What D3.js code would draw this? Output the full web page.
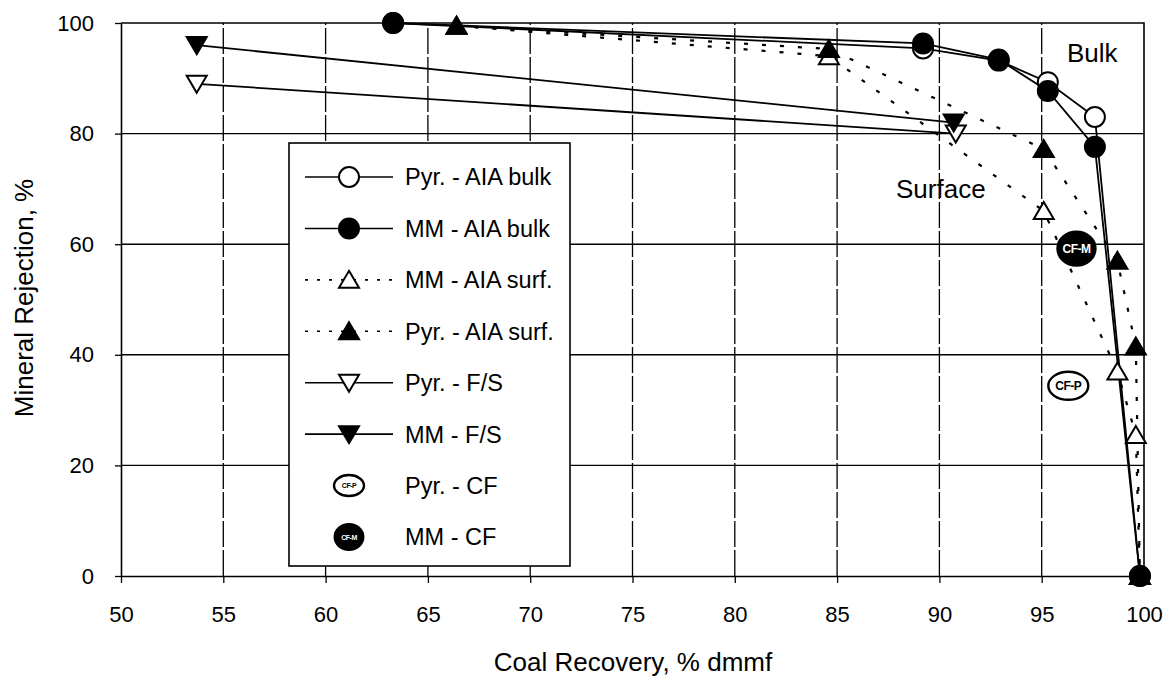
<!DOCTYPE html>
<html>
<head>
<meta charset="utf-8">
<script src="https://cdn.jsdelivr.net/npm/d3@7"></script>
<style>
  html, body { margin: 0; padding: 0; background: #fff; }
  svg { display: block; }
  text { font-family: "Liberation Sans", Arial, Helvetica, sans-serif; fill: #000; }
</style>
</head>
<body>
<svg id="chart" width="1171" height="683"></svg>
<script>
// Axis ticks
const xTicks = [50, 55, 60, 65, 70, 75, 80, 85, 90, 95, 100];
const yTicks = [0, 20, 40, 60, 80, 100];

// Bulk analyses (AIA)
const pyrBulkX = [63.3, 89.2, 92.9, 95.3, 97.6, 99.8];
const pyrBulkY = [100, 95.4, 93.2, 89.3, 83.0, 0];
const mmBulkX  = [63.3, 89.2, 92.9, 95.3, 97.6, 99.8];
const mmBulkY  = [100, 96.3, 93.4, 87.7, 77.6, 0];

// Surface analyses (AIA)
const mmSurfX  = [66.4, 84.6, 95.1, 98.7, 99.6, 99.8];
const mmSurfY  = [99.5, 94.0, 66.0, 37.0, 25.5, 0];
const pyrSurfX = [66.4, 84.6, 95.1, 98.7, 99.6, 99.8];
const pyrSurfY = [99.5, 95.3, 77.2, 57.0, 41.5, 0];

// Float/sink
const pyrFsX = [53.7, 90.8];
const pyrFsY = [89.0, 80.0];
const mmFsX  = [53.7, 90.7];
const mmFsY  = [96.0, 82.0];

// Column flotation
const pyrCfX = [96.3];
const pyrCfY = [34.4];
const mmCfX  = [96.7];
const mmCfY  = [59.2];

const legendLabels = ["Pyr. - AIA bulk", "MM - AIA bulk", "MM - AIA surf.", "Pyr. - AIA surf.",
                      "Pyr. - F/S", "MM - F/S", "Pyr. - CF", "MM - CF"];

const zip = (xs, ys) => xs.map((x, i) => ({ x, y: ys[i] }));

const series = [
  { name: legendLabels[0], data: zip(pyrBulkX, pyrBulkY), line: "solid",  marker: "circle",  filled: false },
  { name: legendLabels[1], data: zip(mmBulkX, mmBulkY),   line: "solid",  marker: "circle",  filled: true },
  { name: legendLabels[2], data: zip(mmSurfX, mmSurfY),   line: "dotted", marker: "triUp",   filled: false },
  { name: legendLabels[3], data: zip(pyrSurfX, pyrSurfY), line: "dotted", marker: "triUp",   filled: true },
  { name: legendLabels[4], data: zip(pyrFsX, pyrFsY),     line: "solid",  marker: "triDown", filled: false },
  { name: legendLabels[5], data: zip(mmFsX, mmFsY),       line: "solid",  marker: "triDown", filled: true },
  { name: legendLabels[6], data: zip(pyrCfX, pyrCfY),     line: "none",   marker: "cf", filled: false, tag: "CF-P" },
  { name: legendLabels[7], data: zip(mmCfX, mmCfY),       line: "none",   marker: "cf", filled: true,  tag: "CF-M" }
];

const svg = d3.select("#chart");
const x = d3.scaleLinear().domain([50, 100]).range([121, 1144]);
const y = d3.scaleLinear().domain([0, 100]).range([576, 23]);

// Gridlines
const grid = svg.append("g");
grid.selectAll("line.h").data(yTicks.filter(v => v > 0 && v < 100)).join("line")
  .attr("x1", x(50)).attr("x2", x(100))
  .attr("y1", d => y(d)).attr("y2", d => y(d))
  .attr("stroke", "#000").attr("stroke-width", 1.4);
grid.selectAll("line.v").data(xTicks.filter(v => v > 50 && v < 100)).join("line")
  .attr("x1", d => x(d)).attr("x2", d => x(d))
  .attr("y1", y(0)).attr("y2", y(100))
  .attr("stroke", "#000").attr("stroke-width", 1.3)
  .attr("stroke-dasharray", "26,3");

// Frame (top and right)
svg.append("path")
  .attr("d", `M${x(50)},${y(100)}H${x(100)}V${y(0)}`)
  .attr("fill", "none").attr("stroke", "#000").attr("stroke-width", 1.6);

// Axes
const fontAxis = 22;
const xAxis = svg.append("g").attr("transform", `translate(0,${y(0)})`)
  .call(d3.axisBottom(x).tickValues(xTicks).tickSize(7).tickPadding(23).tickSizeOuter(0));
const yAxis = svg.append("g").attr("transform", `translate(${x(50)},0)`)
  .call(d3.axisLeft(y).tickValues(yTicks).tickSize(6).tickPadding(21).tickSizeOuter(0));
[xAxis, yAxis].forEach(a => {
  a.selectAll("path.domain").attr("stroke", "#000").attr("stroke-width", 1.6);
  a.selectAll(".tick line").attr("stroke", "#000").attr("stroke-width", 1.3);
  a.selectAll("text").attr("font-size", fontAxis)
    .attr("font-family", "'Liberation Sans', Arial, sans-serif").attr("fill", "#000");
});

// Axis titles
svg.append("text").attr("x", 633).attr("y", 671).attr("text-anchor", "middle")
  .attr("font-size", 26).text("Coal Recovery, % dmmf");
svg.append("text").attr("transform", "translate(33,298) rotate(-90)").attr("text-anchor", "middle")
  .attr("font-size", 26).text("Mineral Rejection, %");

// Marker drawing
function marker(sel, type, filled, tag, scale, tagSize) {
  const s = scale || 1;
  const fill = filled ? "#000" : "#fff";
  if (type === "circle") {
    sel.append("circle").attr("r", 10 * s).attr("fill", fill).attr("stroke", "#000").attr("stroke-width", 2);
  } else if (type === "triUp") {
    sel.append("path").attr("d", `M0,${-9 * s}L${10 * s},${8 * s}L${-10 * s},${8 * s}Z`)
      .attr("fill", fill).attr("stroke", "#000").attr("stroke-width", 2).attr("stroke-linejoin", "miter");
  } else if (type === "triDown") {
    sel.append("path").attr("d", `M0,${9 * s}L${10 * s},${-8 * s}L${-10 * s},${-8 * s}Z`)
      .attr("fill", fill).attr("stroke", "#000").attr("stroke-width", 2).attr("stroke-linejoin", "miter");
  } else if (type === "cf") {
    const rx = filled ? 19 * s : 20 * s, ry = filled ? 17 * s : 14 * s;
    sel.append("ellipse").attr("rx", rx).attr("ry", ry).attr("fill", fill)
      .attr("stroke", "#000").attr("stroke-width", 2.4);
    sel.append("text").attr("text-anchor", "middle").attr("dy", "0.36em")
      .attr("font-size", tagSize || 12).attr("font-weight", "bold")
      .attr("letter-spacing", -0.5)
      .style("fill", filled ? "#fff" : "#000").text(tag);
  }
}

// Series lines
const lineGen = d3.line().x(d => x(d.x)).y(d => y(d.y));
const plot = svg.append("g");
series.filter(s => s.line !== "none").forEach(s => {
  plot.append("path").datum(s.data).attr("d", lineGen)
    .attr("fill", "none").attr("stroke", "#000")
    .attr("stroke-width", s.line === "dotted" ? 2.2 : 1.8)
    .attr("stroke-dasharray", s.line === "dotted" ? "4,14" : null);
});

// Series markers
series.forEach(s => {
  plot.selectAll(null).data(s.data).join("g")
    .attr("transform", d => `translate(${x(d.x)},${y(d.y)})`)
    .each(function () { marker(d3.select(this), s.marker, s.filled, s.tag, 1, 12); });
});

// Region annotations
svg.append("text").attr("x", 1067).attr("y", 62).attr("font-size", 26).text("Bulk");
svg.append("text").attr("x", 896).attr("y", 198).attr("font-size", 26).text("Surface");

// Legend
const legend = svg.append("g");
legend.append("rect").attr("x", 289).attr("y", 143).attr("width", 281).attr("height", 423)
  .attr("fill", "#fff").attr("stroke", "#000").attr("stroke-width", 1.6);
const rowY = d3.scalePoint().domain(legendLabels).range([177, 537]);
legendLabels.forEach((name, i) => {
  const s = series[i];
  const g = legend.append("g").attr("transform", `translate(0,${rowY(name)})`);
  if (s.line !== "none") {
    g.append("line").attr("x1", 305).attr("x2", 393).attr("y1", 0).attr("y2", 0)
      .attr("stroke", "#000").attr("stroke-width", 1.6)
      .attr("stroke-dasharray", s.line === "dotted" ? "3,9" : null);
  }
  const m = g.append("g").attr("transform", "translate(349,0)");
  marker(m, s.marker, s.filled, s.tag, s.marker === "cf" ? 0.75 : 1, 7);
  g.append("text").attr("x", 405).attr("dy", "0.36em").attr("font-size", 23.5).text(name);
});
</script>
</body>
</html>
